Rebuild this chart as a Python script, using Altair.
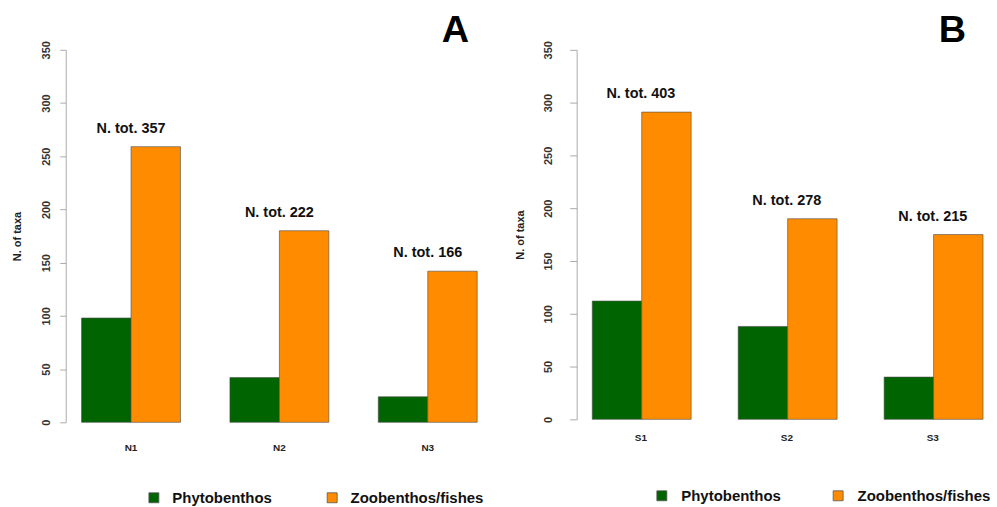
import altair as alt
import pandas as pd

# ---- data ----
groups = ["Phytobenthos", "Zoobenthos/fishes"]
colors = ["#006400", "#FF8C00"]

sites_A = ["N1", "N2", "N3"]
phyto_A = [98, 42, 24]
zoo_A = [259, 180, 142]
tot_A = [357, 222, 166]

sites_B = ["S1", "S2", "S3"]
phyto_B = [112, 88, 40]
zoo_B = [291, 190, 175]
tot_B = [403, 278, 215]

y_ticks = [0, 50, 100, 150, 200, 250, 300, 350]

FONT = "Liberation Sans"


def panel(letter, sites, phyto, zoo, tot, width, height, title_x, label_pad,
          tick_size, xlab_pad, leg_x, leg_y, leg_off, leg_colpad, letter_dx):
    rows = []
    for s, p, z in zip(sites, phyto, zoo):
        rows.append({"site": s, "group": groups[0], "value": p})
        rows.append({"site": s, "group": groups[1], "value": z})
    df = pd.DataFrame(rows)
    df_tot = pd.DataFrame({"site": sites, "zoo": zoo,
                           "label": [f"N. tot. {t}" for t in tot]})

    xscale = alt.Scale(paddingInner=1 / 3, paddingOuter=0.32 / 3)
    yscale = alt.Scale(domain=[0, 350], nice=False)

    bars = alt.Chart(df).mark_bar(stroke="#4a4a4a", strokeWidth=0.6).encode(
        x=alt.X("site:N", scale=xscale, sort=sites,
                axis=alt.Axis(title=None, labelAngle=0, domain=False, ticks=False,
                              tickSize=0, labelPadding=xlab_pad, labelFontSize=10,
                              labelFontWeight="bold", labelColor="#222")),
        xOffset=alt.XOffset("group:N", sort=groups,
                            scale=alt.Scale(paddingInner=0, paddingOuter=0)),
        y=alt.Y("value:Q", scale=yscale,
                axis=alt.Axis(values=y_ticks, title="N. of taxa", titleFontSize=11,
                              titleFontWeight="bold", titleColor="#222",
                              titleX=title_x, titleY=height / 2, titleAngle=270,
                              titleAlign="center", titleBaseline="middle",
                              labelAngle=270, labelAlign="center",
                              labelBaseline="bottom", labelPadding=label_pad,
                              tickSize=tick_size, domainColor="#aaaaaa",
                              tickColor="#aaaaaa", labelFontSize=11,
                              labelFontWeight="bold", labelColor="#333333",
                              grid=False)),
        color=alt.Color("group:N", sort=groups,
                        scale=alt.Scale(domain=groups, range=colors),
                        legend=alt.Legend(title=None, orient="none", legendX=leg_x,
                                          legendY=leg_y, direction="horizontal",
                                          symbolType="square", symbolSize=100,
                                          symbolStrokeColor="#555555",
                                          symbolStrokeWidth=0.8,
                                          labelFontSize=15, labelFontWeight="bold",
                                          labelColor="#111111", labelOffset=leg_off,
                                          columnPadding=leg_colpad, padding=0)),
    )

    texts = alt.Chart(df_tot).mark_text(dy=-18, fontSize=14.5, fontWeight="bold",
                                        baseline="middle", color="#111111").encode(
        x=alt.X("site:N", scale=xscale, sort=sites),
        y=alt.Y("zoo:Q", scale=yscale),
        text="label:N",
    )

    return alt.layer(bars, texts).properties(
        width=width, height=height,
        title=alt.TitleParams(letter, anchor="end", frame="group", fontSize=38,
                              fontWeight="bold", color="#000000", dx=letter_dx,
                              dy=45, offset=6, baseline="alphabetic"),
    )


pA = panel("A", sites_A, phyto_A, zoo_A, tot_A, 429, 374, -48, 8, 6, 20,
           81, 442, 11, 53, -24)
pB = panel("B", sites_B, phyto_B, zoo_B, tot_B, 422, 371, -56, 16, 7, 13,
           78, 440, 12, 50, -31)

chart = alt.hconcat(pA, pB, spacing=22).resolve_scale(
    color="independent", x="independent", y="independent"
).resolve_legend(color="independent").properties(
    padding={"left": 12, "top": 10, "right": 0, "bottom": 0}
).configure(font=FONT).configure_view(stroke=None).configure_title(font=FONT)

chart.save("out.html", embed_options={"renderer": "svg", "actions": False})
